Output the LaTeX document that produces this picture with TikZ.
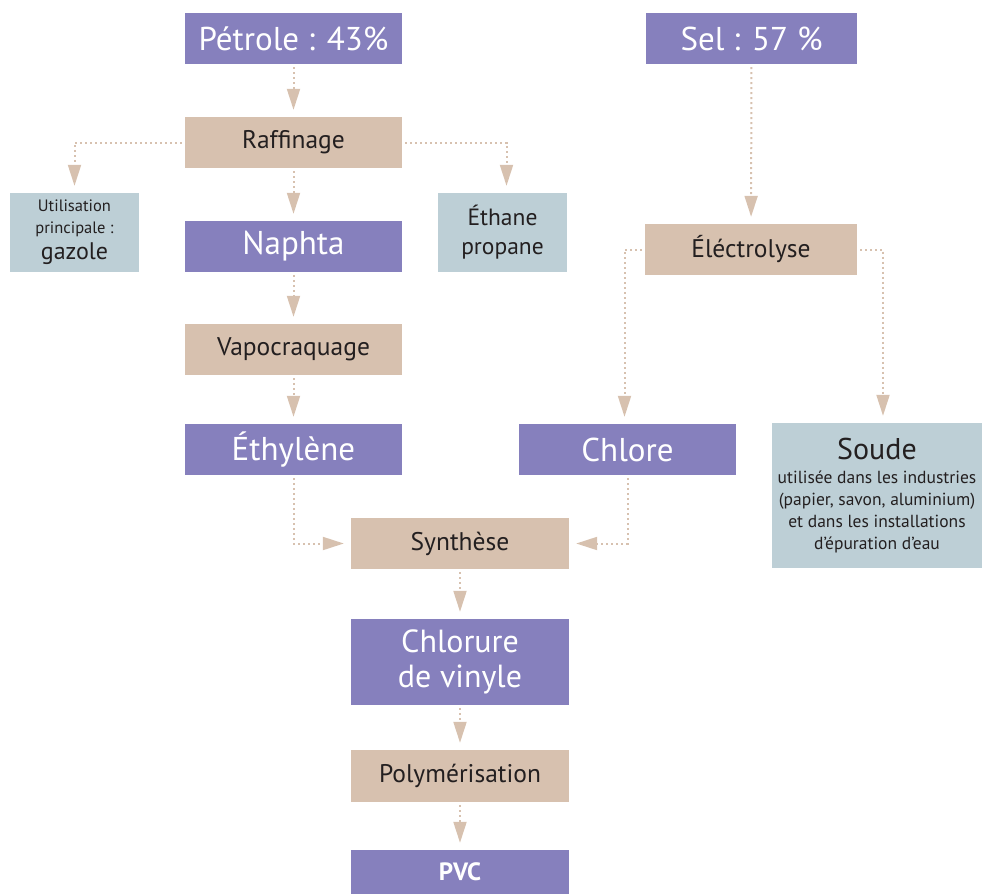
\documentclass[tikz,border=0pt]{standalone}
\usepackage{fontspec}
\setmainfont{PT Sans}
\usepackage{xcolor}
\usepackage{tikz}
\usetikzlibrary{positioning,arrows.meta}
\definecolor{ProdViolet}{HTML}{8680BD}
\definecolor{ProcTan}{HTML}{D7C1AF}
\definecolor{UseGrey}{HTML}{BDCFD6}
\definecolor{TextDark}{HTML}{231F20}
\newcommand{\bigline}[1]{{\fontsize{24}{27}\selectfont #1}}
\newcommand{\hugeline}[1]{{\fontsize{30}{32}\selectfont #1}}

\begin{document}
\begin{tikzpicture}[x=1pt,y=-1pt,
          prod/.style={fill=ProdViolet, text=white, minimum width=217pt,
            minimum height=51pt, inner sep=0pt, align=center, font=\fontsize{33}{35}\selectfont},
          proc/.style={fill=ProcTan, text=TextDark, minimum width=217pt,
            minimum height=51pt, inner sep=0pt, align=center, font=\fontsize{25.5}{28}\selectfont},
          use/.style={fill=UseGrey, text=TextDark, inner sep=0pt, align=center},
          ar/.style={-{Triangle[length=21pt,width=13pt]}, ProcTan, line width=2pt,
            dash pattern=on 2pt off 3pt, shorten <=3pt, shorten >=7pt}]
        \useasboundingbox (0,0) rectangle (982,894);
        % left chain
        \node[prod] (pet) at (293.5, 38.5) {Pétrole : 43\%};
        \node[proc] (raf) at (293.5,142.5) {Raffinage};
        \node[use, minimum width=129pt, minimum height=79pt, font=\fontsize{16.5}{22}\selectfont]
        (gaz) at (74.5,232.5) {Utilisation\\principale :\\[4pt]\bigline{gazole}};
        \node[prod] (nap) at (293.5,246.5) {Naphta};
        \node[use, minimum width=129pt, minimum height=79pt, font=\fontsize{23.5}{29}\selectfont]
        (eth) at (502.5,232.5) {Éthane\\propane};
        \node[proc] (vapo) at (293.5,349.5) {Vapocraquage};
        \node[prod] (ethy) at (293.5,449.5) {Éthylène};
        % right chain
        \node[prod, minimum width=211pt] (sel) at (751.5, 38.5) {Sel : 57 \%};
        \node[proc, minimum width=212pt] (elec) at (751,249.5) {Éléctrolyse};
        \node[prod] (chl) at (627.5,449.5) {Chlore};
        \node[use, minimum width=210pt, minimum height=145pt, font=\fontsize{17.5}{22}\selectfont]
        (soud) at (877,495.5) {\hugeline{Soude}\\[2pt]utilisée dans les industries\\(papier, savon, aluminium)\\
          et dans les installations\\d’épuration d’eau};
        % common chain
        \node[proc, minimum width=218pt] (syn) at (460,543.5) {Synthèse};
        \node[prod, minimum width=218pt, minimum height=86pt, font=\fontsize{32}{35}\selectfont]
        (vin) at (460,662) {Chlorure\\de vinyle};
        \node[proc, minimum width=218pt, minimum height=52pt] (poly) at (460,776) {Polymérisation};
        \node[prod, minimum width=218pt, minimum height=44pt, font=\fontsize{25}{27}\selectfont\bfseries]
        (pvc) at (460,872) {PVC};

        \draw[ar] (pet) -- (raf);
        \draw[ar] (raf.west) -| (gaz.north);
        \draw[ar] (raf.east) -| ([xshift=4pt]eth.north);
        \draw[ar] (raf) -- (nap);
        \draw[ar] (nap) -- (vapo);
        \draw[ar] (vapo) -- (ethy);
        \draw[ar] (sel) -- (elec);
        \draw[ar] (elec.west) -| ([xshift=-3pt]chl.north);
        \draw[ar] (elec.east) -| ([xshift=6pt]soud.north);
        \draw[ar] (ethy.south) |- (syn.west);
        \draw[ar] (chl.south) |- (syn.east);
        \draw[ar] (syn) -- (vin);
        \draw[ar] (vin) -- (poly);
        \draw[ar] (poly) -- (pvc);
      \end{tikzpicture}
\end{document}
